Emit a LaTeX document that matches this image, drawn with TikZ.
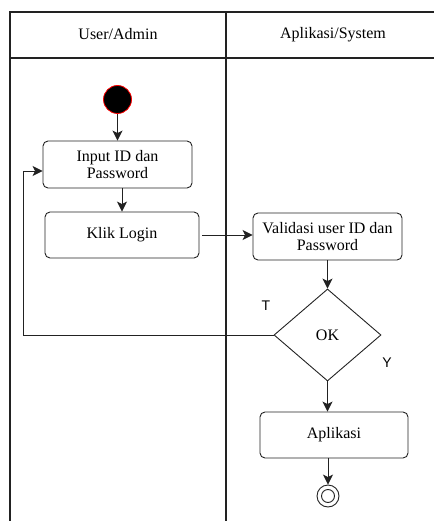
\documentclass[tikz,border=0pt]{standalone}
\usepackage{fontspec}
\setmainfont{Liberation Serif}
\newfontfamily\labelfont{Liberation Sans}
\usetikzlibrary{shapes.geometric,arrows.meta}
\definecolor{lane}{HTML}{222222}
\begin{document}
\begin{tikzpicture}[x=1pt,y=1pt,
  lanes/.style={draw=lane,line width=1.3pt},
  actbox/.style={draw=lane,line width=0.9pt,rounded corners=5pt,align=center,inner sep=0pt,
    font=\fontsize{16}{17.5}\selectfont},
  decis/.style={draw=lane,line width=0.9pt,diamond,inner sep=0pt,minimum width=107pt,minimum height=92pt,
    font=\fontsize{16}{17.5}\selectfont},
  flow/.style={draw=lane,line width=0.9pt,-{Stealth[length=10pt,width=10pt,inset=2.5pt]}},
  hdr/.style={font=\fontsize{16}{17.5}\selectfont},
  guard/.style={font=\labelfont\fontsize{14}{16}\selectfont}
]
\useasboundingbox (0,0) rectangle (434,-521);
% swimlanes
\draw[lanes] (10,-521) -- (10,-12) -- (434,-12);
\draw[lanes] (10,-58) -- (434,-58);
\draw[lanes] (226,-12) -- (226,-521);
\node[hdr] (h1) at (118,-34.5) {User/Admin};
\node[hdr] (h2) at (333,-34.5) {Aplikasi/System};
% nodes
\node[circle,draw=red,fill=black,line width=0.8pt,minimum width=28pt,minimum height=26pt,inner sep=0pt] (start) at (117.5,-99.5) {};
\node[actbox,minimum width=149pt,minimum height=47pt] (inp) at (117.5,-164.5) {Input ID dan\\Password};
\node[actbox,minimum width=154pt,minimum height=46pt] (klik) at (122,-235) {Klik Login};
\node[actbox,minimum width=149pt,minimum height=47pt] (val) at (327.5,-236.5) {Validasi user ID dan\\Password};
\node[decis] (ok) at (327.5,-335) {OK};
\node[actbox,minimum width=148pt,minimum height=46pt] (apl) at (334,-435) {Aplikasi};
\node[circle,draw=lane,line width=0.9pt,minimum size=22pt,inner sep=0pt] (end) at (328,-496) {};
\node[circle,draw=lane,line width=0.9pt,minimum size=13pt,inner sep=0pt] (endin) at (end.center) {};
\node[guard] (t) at (266,-306) {T};
\node[guard] (y) at (387,-363) {Y};
% connectors
\draw[flow] (start) -- (inp);
\draw[flow] (inp.south -| klik.north) -- (klik.north);
\draw[flow,shorten <=3pt] (klik.east) -- (val.west |- klik.east);
\draw[flow] (val.south -| ok.north) -- (ok.north);
\draw[flow] (ok.south) -- (ok.south |- apl.north);
\draw[flow] (apl.south -| end.north) -- (end.north);
\coordinate (lp) at (23,-335);
\draw[flow] (ok.west) -- (lp) |- ([yshift=-6.5pt]inp.west);
\end{tikzpicture}
\end{document}
